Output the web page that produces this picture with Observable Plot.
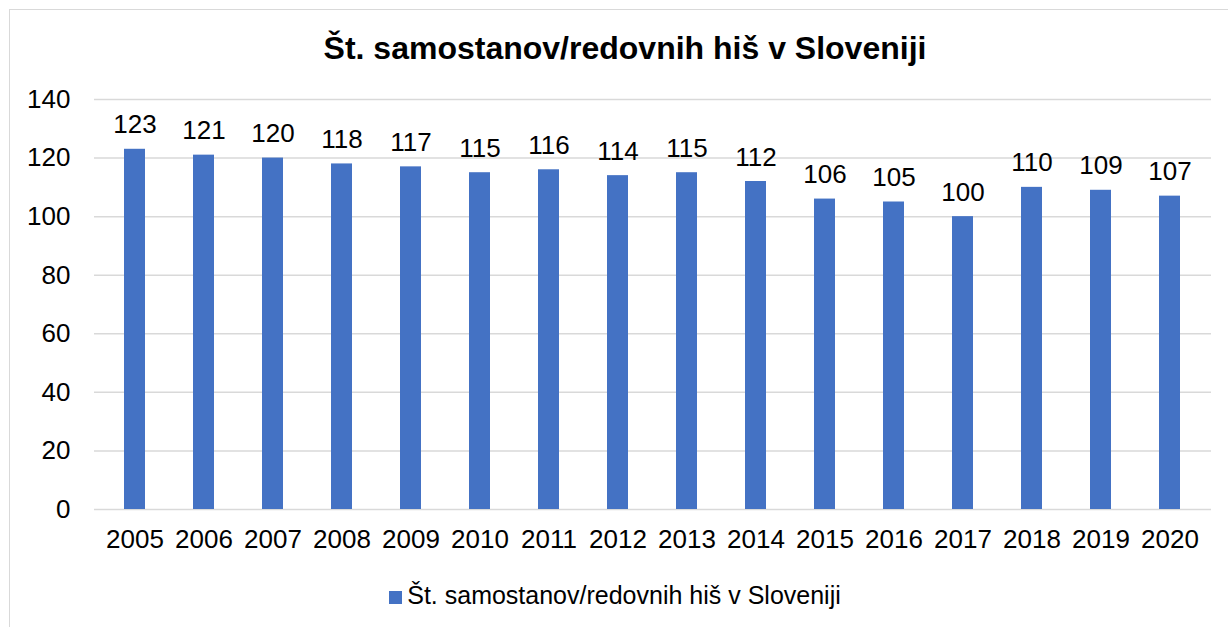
<!DOCTYPE html>
<html><head><meta charset="utf-8">
<script src="https://cdn.jsdelivr.net/npm/d3@7"></script>
<script src="https://cdn.jsdelivr.net/npm/@observablehq/plot@0.6"></script>
<style>
html,body{margin:0;padding:0;background:#fff;}
body{width:1228px;height:627px;position:relative;overflow:hidden;font-family:"Liberation Sans",Arial,sans-serif;}
#frame{position:absolute;left:9px;top:9px;width:1240px;height:640px;border:1px solid #d9d9d9;box-sizing:border-box;}
#title{position:absolute;left:0;width:1250px;top:27px;text-align:center;font-weight:bold;font-size:32px;line-height:42px;color:#000;}
#chart{position:absolute;left:0;top:70px;}
#legend{position:absolute;left:0;width:1230px;top:579px;text-align:center;font-size:25px;line-height:32px;color:#000;}
#legend .sw{display:inline-block;width:13px;height:13px;background:#4472C4;margin-right:5px;vertical-align:0px;}
</style>
</head><body>
<div id="frame"></div>
<div id="title">Št. samostanov/redovnih hiš v Sloveniji</div>
<div id="chart"></div>
<div id="legend"><span class="sw"></span>Št. samostanov/redovnih hiš v Sloveniji</div>
<script>
const years = ["2005","2006","2007","2008","2009","2010","2011","2012","2013","2014","2015","2016","2017","2018","2019","2020"];
const counts = [123,121,120,118,117,115,116,114,115,112,106,105,100,110,109,107];
const yTicks = [0,20,40,60,80,100,120,140];

const data = years.map((y,i)=>({year:y, value:counts[i]}));

const chart = Plot.plot({
  width: 1228,
  height: 500,
  marginTop: 29,
  marginBottom: 61,
  marginLeft: 94,
  marginRight: 17,
  style: {fontFamily: '"Liberation Sans", Arial, sans-serif', fontSize: "26px", color: "#000", background: "transparent"},
  x: {domain: years, paddingInner: 0.69, paddingOuter: 0.345, label: null},
  y: {domain: [0,140], label: null},
  marks: [
    Plot.gridY(yTicks, {stroke: "#d9d9d9", strokeOpacity: 1, strokeWidth: 1.5}),
    Plot.barY(data, {x: "year", y: "value", fill: "#4472C4"}),
    Plot.text(data, {x: "year", y: "value", text: d => String(d.value), lineAnchor: "bottom", dy: -16, fontSize: 26, fill: "#000"}),
    Plot.axisX({tickSize: 0, tickPadding: 20, fontSize: 26, label: null}),
    Plot.axisY(yTicks, {tickSize: 0, tickPadding: 24, fontSize: 26, label: null})
  ]
});
document.getElementById("chart").appendChild(chart);
</script>
</body></html>
